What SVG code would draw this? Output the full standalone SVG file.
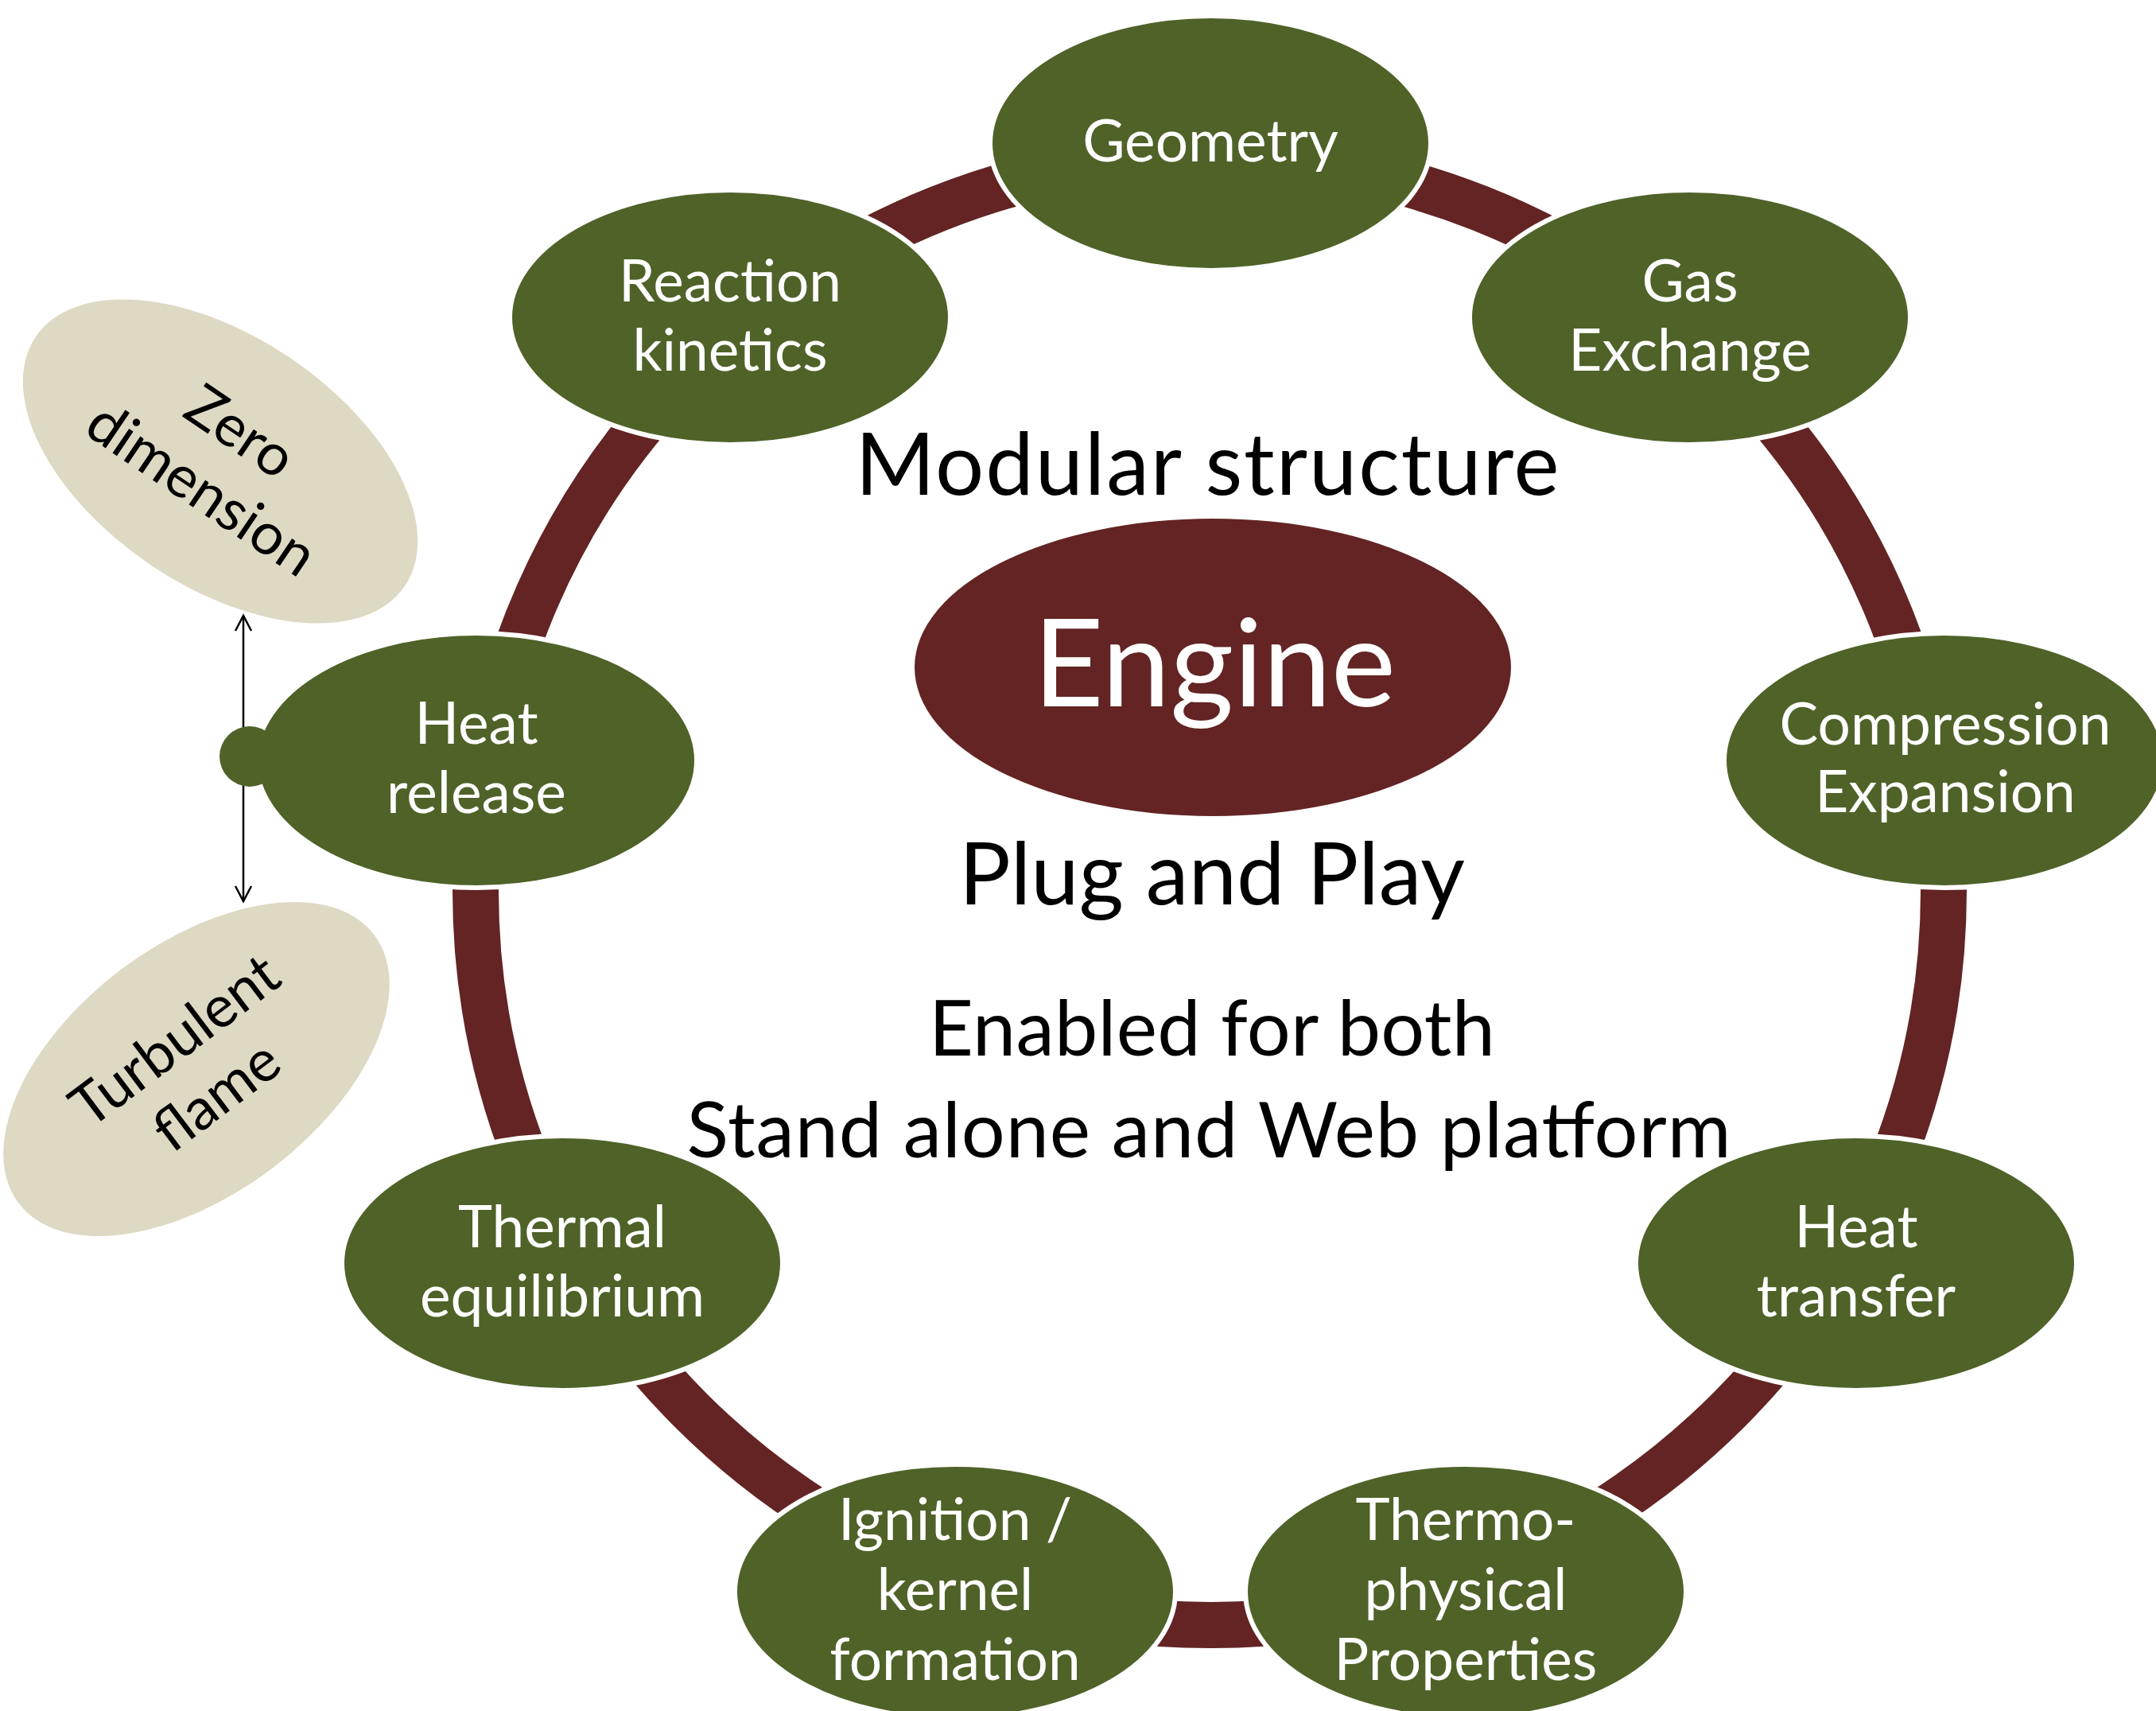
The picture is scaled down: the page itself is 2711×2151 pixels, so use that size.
<svg xmlns="http://www.w3.org/2000/svg" width="2711" height="2151" viewBox="0 0 2711 2151">
  <style>
    .mod { fill: #4F6228; stroke: #FFFFFF; stroke-width: 6; }
    .side { fill: #DDD9C3; }
    .lbl { font-family: Lato, 'Open Sans', 'DejaVu Sans', sans-serif; font-size: 73px; fill: #FFFFFF; text-anchor: middle; }
    .sidelbl { font-family: Lato, 'Open Sans', 'DejaVu Sans', sans-serif; font-size: 73px; fill: #000000; text-anchor: middle; }
    .big { font-family: Lato, 'Open Sans', 'DejaVu Sans', sans-serif; fill: #000000; text-anchor: middle; }
    .ring { fill: none; stroke: #632423; stroke-width: 58; }
    .link { stroke: #000000; stroke-width: 2.5; fill: none; }
  </style>
  <defs>
    <marker id="open-head" markerUnits="userSpaceOnUse" viewBox="-24 -14 28 28" refX="0" refY="0" markerWidth="28" markerHeight="28" orient="auto-start-reverse" overflow="visible">
      <path d="M -19 -10 L 0 0 L -19 10" fill="none" stroke="#000000" stroke-width="2.5"/>
    </marker>
  </defs>

  <rect x="0" y="0" width="2711" height="2151" fill="#FFFFFF"/>

  <!-- connectors: the ring joining the modules and the model switch arrow -->
  <g id="connectors">
    <circle class="ring" cx="1521" cy="1120" r="923"/>
    <line class="link" x1="306" y1="774" x2="306" y2="1133" marker-start="url(#open-head)" marker-end="url(#open-head)"/>
  </g>

  <!-- centre titles -->
  <g id="titles">
    <text class="big" x="1518" y="622" font-size="108" textLength="885" lengthAdjust="spacing">Modular structure</text>
    <text class="big" x="1524" y="1137" font-size="108" textLength="636" lengthAdjust="spacing">Plug and Play</text>
    <text class="big" x="1524" y="1327" font-size="97" textLength="712" lengthAdjust="spacing">Enabled for both</text>
    <text class="big" x="1520" y="1455" font-size="97" textLength="1313" lengthAdjust="spacing">Stand alone and Web platform</text>
  </g>

  <g id="engine">
    <ellipse cx="1525" cy="839" rx="375" ry="187" fill="#632423"/>
    <text class="big" x="1527" y="888" font-size="154" style="fill:#FFFFFF" textLength="456" lengthAdjust="spacing">Engine</text>
  </g>

  <g id="geometry">
    <ellipse class="mod" cx="1522" cy="180" rx="277" ry="160"/>
    <text class="lbl" x="1522" y="203">Geometry</text>
  </g>

  <g id="reaction-kinetics">
    <ellipse class="mod" cx="918" cy="399" rx="277" ry="160"/>
    <text class="lbl"><tspan x="918" y="379">Reaction</tspan><tspan x="918" y="466">kinetics</tspan></text>
  </g>

  <g id="gas-exchange">
    <ellipse class="mod" cx="2125" cy="399" rx="277" ry="160"/>
    <text class="lbl"><tspan x="2125" y="379">Gas</tspan><tspan x="2125" y="466">Exchange</tspan></text>
  </g>

  <g id="heat-release">
    <ellipse class="mod" cx="599" cy="956" rx="277" ry="160"/>
    <circle cx="314" cy="951" r="38" fill="#4F6228"/>
    <text class="lbl"><tspan x="599" y="935">Heat</tspan><tspan x="599" y="1022">release</tspan></text>
  </g>

  <g id="compression-expansion">
    <ellipse class="mod" cx="2445" cy="956" rx="277" ry="160"/>
    <text class="lbl"><tspan x="2446" y="936">Compression</tspan><tspan x="2446" y="1021">Expansion</tspan></text>
  </g>

  <g id="thermal-equilibrium">
    <ellipse class="mod" cx="707" cy="1588" rx="277" ry="160"/>
    <text class="lbl"><tspan x="707" y="1568">Thermal</tspan><tspan x="707" y="1655">equilibrium</tspan></text>
  </g>

  <g id="heat-transfer">
    <ellipse class="mod" cx="2334" cy="1588" rx="277" ry="160"/>
    <text class="lbl"><tspan x="2334" y="1568">Heat</tspan><tspan x="2334" y="1655">transfer</tspan></text>
  </g>

  <g id="ignition-kernel">
    <ellipse class="mod" cx="1201" cy="2001" rx="277" ry="160"/>
    <text class="lbl"><tspan x="1201" y="1936">Ignition /</tspan><tspan x="1201" y="2024">kernel</tspan><tspan x="1201" y="2112">formation</tspan></text>
  </g>

  <g id="thermo-physical">
    <ellipse class="mod" cx="1843" cy="2001" rx="277" ry="160"/>
    <text class="lbl"><tspan x="1843" y="1936">Thermo-</tspan><tspan x="1843" y="2024">physical</tspan><tspan x="1843" y="2112">Properties</tspan></text>
  </g>

  <g id="zero-dimension" transform="translate(277 580) rotate(34)">
    <ellipse class="side" cx="0" cy="0" rx="280" ry="157"/>
    <text class="sidelbl"><tspan x="0" y="-20">Zero</tspan><tspan x="0" y="67">dimension</tspan></text>
  </g>

  <g id="turbulent-flame" transform="translate(247 1344) rotate(-37)">
    <ellipse class="side" cx="0" cy="0" rx="280" ry="157"/>
    <text class="sidelbl"><tspan x="0" y="-20">Turbulent</tspan><tspan x="0" y="67">flame</tspan></text>
  </g>
</svg>
